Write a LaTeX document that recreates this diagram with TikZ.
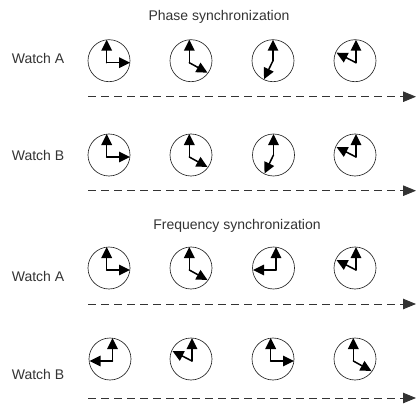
\documentclass[tikz,border=0pt]{standalone}
\usepackage{fontspec}
\setmainfont{Liberation Sans}
\usetikzlibrary{arrows.meta}

\tikzset{
  watchface/.style={draw,circle,minimum size=42pt,inner sep=0pt,line width=0.65pt,black!85},
  watchhand/.style={-{Triangle[length=11pt,width=10.5pt]},line width=1.5pt,line cap=round,black},
  timeline/.style={-{Triangle[length=13pt,width=10.5pt]},line width=0.9pt,dash pattern=on 8pt off 5pt,black!80},
  rowlabel/.style={font=\fontsize{14}{16}\selectfont,black!80,text height=10pt,text depth=3pt,inner sep=0pt},
}

% #1 name, #2 #3 centre, #4 #5 pivot offset, #6 #7 end of the short hand
\newcommand{\watch}[7]{
  \node[watchface] (#1) at (#2,#3) {};
  \coordinate (#1pivot) at (#2+#4,#3+#5);
  \coordinate (#1up) at (#2+#4,#3-21);
  \coordinate (#1short) at (#2+#6,#3+#7);
  \draw[watchhand] (#1pivot) -- (#1up);
  \draw[watchhand] (#1pivot) -- (#1short);
}
\newcommand{\watchthree}[3]{\watch{#1}{#2}{#3}{-2.3}{2}{21}{2}}
\newcommand{\watchfour}[3]{\watch{#1}{#2}{#3}{-1.7}{2}{16.5}{12}}
\newcommand{\watchseven}[3]{\watch{#1}{#2}{#3}{0}{0}{-9}{18.5}}
\newcommand{\watchnine}[3]{\watch{#1}{#2}{#3}{2.5}{2}{-20.5}{2}}
\newcommand{\watchten}[3]{\watch{#1}{#2}{#3}{1}{2}{-18.5}{-8}}

\begin{document}
\begin{tikzpicture}[x=1pt,y=-1pt]
  \useasboundingbox (0,0) rectangle (418,404);
  \node[rowlabel] (phase) at (219,17) {Phase synchronization};
  \node[rowlabel] (freq) at (237,226) {Frequency synchronization};
  \node[rowlabel] (phaseA) at (38,60) {Watch A};
  \node[rowlabel] (phaseB) at (38,157) {Watch B};
  \node[rowlabel] (freqA) at (38,277.5) {Watch A};
  \node[rowlabel] (freqB) at (38,375.5) {Watch B};

  % phase synchronization
  \watchthree{a1}{109}{60.7}
  \watchfour{a2}{191}{60.7}
  \watchseven{a3}{273}{60.7}
  \watchten{a4}{355}{60.7}
  \watchthree{b1}{109}{155}
  \watchfour{b2}{191}{155}
  \watchseven{b3}{273.5}{155}
  \watchten{b4}{355}{155}

  % frequency synchronization
  \watchthree{c1}{109}{268}
  \watchfour{c2}{191}{268}
  \watchnine{c3}{273.5}{268}
  \watchten{c4}{355}{268}
  \watchnine{d1}{110}{359}
  \watchten{d2}{191}{359}
  \watchthree{d3}{273}{359}
  \watchfour{d4}{355}{359}

  \foreach \axis/\ypos in {a/96.7,b/190.7,c/304,d/398}{
    \coordinate (\axis start) at (88,\ypos);
    \coordinate (\axis end) at (416,\ypos);
    \draw[timeline] (\axis start) -- (\axis end);
  }
\end{tikzpicture}
\end{document}
